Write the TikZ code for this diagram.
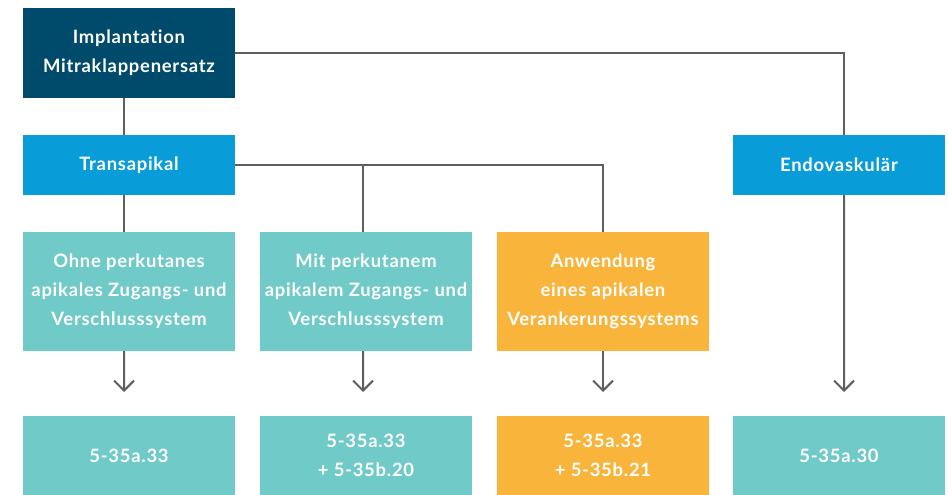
\documentclass[tikz,border=0pt]{standalone}
\usepackage{fontspec}
\setmainfont{Lato}[LetterSpace=4,Ligatures=NoCommon]
\usepackage{tikz}
\usetikzlibrary{arrows.meta}
\definecolor{dunkelblau}{HTML}{004B6B}
\definecolor{hellblau}{HTML}{089CD8}
\definecolor{tuerkis}{HTML}{6FCAC8}
\definecolor{orange}{HTML}{F9B43B}
\definecolor{grau}{HTML}{5F5F5F}
\tikzstyle{kasten}=[rectangle,inner sep=2bp,text=white,align=center,minimum width=212bp,font=\bfseries\fontsize{18.5}{29}\selectfont]
\tikzstyle{linie}=[draw=grau,line width=2bp]
\tikzstyle{pfeil}=[linie,-{Straight Barb[length=10bp,width=20bp,line width=2bp]}]

\begin{document}
\begin{tikzpicture}[x=1bp,y=-1bp]
\useasboundingbox (0,0) rectangle (948,495);
\node[kasten,fill=dunkelblau,minimum height=90bp] (impl) at (129,53) {Implantation\\Mitraklappenersatz};
\node[kasten,fill=hellblau,minimum height=60bp] (trans) at (129,165) {Transapikal};
\node[kasten,fill=hellblau,minimum height=60bp] (endo) at (839,165) {Endovaskulär};
\node[kasten,fill=tuerkis,minimum height=119bp] (ohne) at (129,291.5) {Ohne perkutanes\\apikales Zugangs- und\\Verschlusssystem};
\node[kasten,fill=tuerkis,minimum height=119bp] (mit) at (366,291.5) {Mit perkutanem\\apikalem Zugangs- und\\Verschlusssystem};
\node[kasten,fill=orange,minimum height=119bp] (anw) at (603,291.5) {Anwendung\\eines apikalen\\Verankerungssystems};
\node[kasten,fill=tuerkis,minimum height=79bp] (code1) at (129,455.5) {5-35a.33};
\node[kasten,fill=tuerkis,minimum height=79bp] (code2) at (366,455.5) {5-35a.33\\+ 5-35b.20};
\node[kasten,fill=orange,minimum height=79bp] (code3) at (603,455.5) {5-35a.33\\+ 5-35b.21};
\node[kasten,fill=tuerkis,minimum height=79bp] (code4) at (839,455.5) {5-35a.30};
% Verbindungen
\draw[linie] (impl.east) -| ([xshift=5bp]endo.north);
\draw[linie] ([xshift=-5bp]impl.south) -- ([xshift=-5bp]trans.north);
\draw[linie] ([xshift=-5bp]trans.south) -- ([xshift=-5bp]ohne.north);
\draw[linie] (trans.east) -| ([xshift=-3bp]mit.north);
\draw[linie] (trans.east) -| (anw.north);
% Pfeile
\coordinate (p1) at (124,392);
\coordinate (p2) at (363,392);
\coordinate (p3) at (603,392);
\coordinate (p4) at (844,392);
\draw[pfeil] ([xshift=-5bp]ohne.south) -- (p1);
\draw[pfeil] ([xshift=-3bp]mit.south) -- (p2);
\draw[pfeil] (anw.south) -- (p3);
\draw[pfeil] ([xshift=5bp]endo.south) -- (p4);
\end{tikzpicture}
\end{document}
